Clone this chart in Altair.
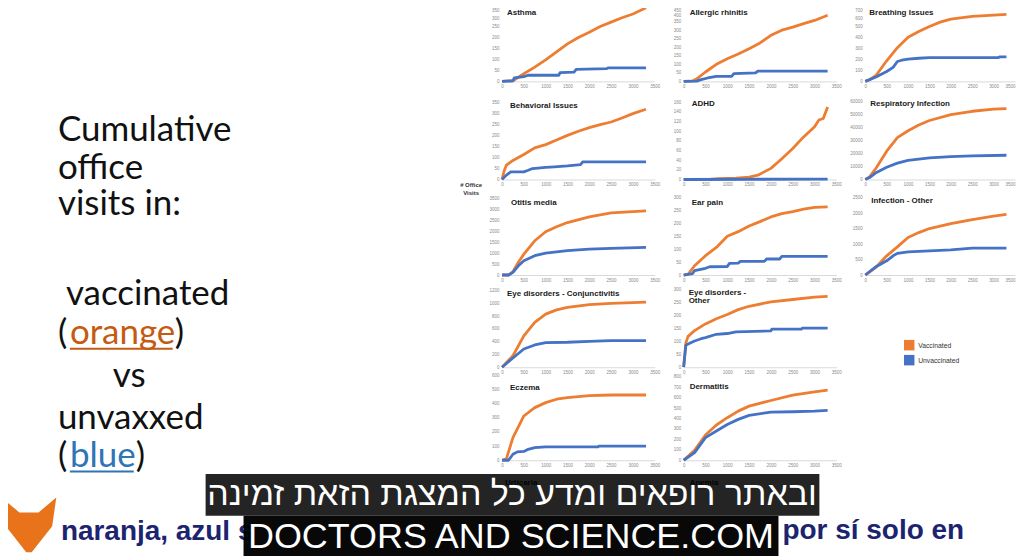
import altair as alt
import pandas as pd

ORANGE = "#ED7D31"
BLUE = "#4472C4"
FONT = "Liberation Sans"
BIG = "Lato"

# ---------------- data: day of life vs cumulative office visits ----------------
asthma_dv = [0, 250, 500, 750, 1000, 1250, 1500, 1750, 2000, 2250, 2500, 2750, 3000, 3300]
asthma_v = [0, 3, 35, 65, 98, 135, 171, 200, 224, 250, 270, 290, 307, 335]
asthma_du = [0, 250, 280, 500, 600, 1300, 1330, 1650, 1700, 2400, 2430, 3300]
asthma_u = [0, 3, 16, 22, 28, 28, 40, 42, 55, 58, 62, 62]

rhin_dv = [0, 200, 300, 500, 750, 1000, 1250, 1500, 1750, 2000, 2250, 2500, 2750, 3000, 3300]
rhin_v = [0, 3, 15, 55, 100, 133, 160, 191, 225, 270, 300, 318, 338, 357, 387]
rhin_du = [0, 300, 400, 550, 750, 1100, 1150, 1650, 1700, 3300]
rhin_u = [0, 2, 10, 20, 30, 30, 45, 50, 60, 60]

breath_dv = [0, 100, 250, 500, 750, 1000, 1250, 1500, 1750, 2000, 2500, 3000, 3300]
breath_v = [0, 15, 54, 188, 307, 402, 455, 500, 540, 568, 592, 604, 610]
breath_du = [0, 250, 500, 650, 750, 850, 1000, 1250, 1500, 3100, 3150, 3300]
breath_u = [0, 40, 90, 128, 181, 193, 202, 211, 217, 217, 223, 223]

behav_dv = [0, 50, 100, 250, 500, 750, 1000, 1250, 1500, 1750, 2000, 2250, 2500, 2750, 3000, 3300]
behav_v = [0, 40, 65, 87, 114, 144, 159, 180, 201, 220, 236, 250, 262, 280, 300, 320]
behav_du = [0, 100, 200, 500, 600, 700, 1000, 1200, 1500, 1800, 1850, 3300]
behav_u = [0, 20, 35, 35, 42, 50, 55, 58, 62, 68, 80, 80]

adhd_dv = [0, 600, 800, 1200, 1500, 1700, 2000, 2250, 2500, 2750, 3000, 3100, 3200, 3300]
adhd_v = [0, 0, 2, 3, 5, 9, 23, 43, 64, 88, 109, 123, 126, 150]
adhd_du = [0, 3300]
adhd_u = [0, 1]

resp_dv = [0, 100, 250, 500, 750, 1000, 1250, 1500, 2000, 2500, 3000, 3300]
resp_v = [0, 2000, 8700, 21800, 32300, 37600, 42000, 45500, 50000, 52600, 54200, 54700]
resp_du = [0, 100, 250, 500, 750, 1000, 1500, 2000, 2500, 3300]
resp_u = [0, 1500, 5300, 9500, 12600, 14700, 16600, 17600, 18200, 18700]

otitis_dv = [0, 150, 250, 375, 500, 750, 1000, 1250, 1500, 2000, 2500, 3000, 3300]
otitis_v = [0, 0, 150, 580, 950, 1560, 1970, 2200, 2390, 2650, 2830, 2890, 2920]
otitis_du = [0, 150, 250, 375, 500, 750, 1000, 1500, 2000, 2500, 3300]
otitis_u = [0, 0, 120, 420, 650, 880, 1000, 1110, 1180, 1210, 1260]

ear_dv = [0, 100, 250, 500, 750, 1000, 1250, 1500, 1750, 2000, 2250, 2500, 2750, 3000, 3300]
ear_v = [0, 3, 36, 75, 107, 150, 168, 190, 207, 225, 238, 246, 255, 262, 264]
ear_du = [0, 200, 250, 500, 600, 1000, 1050, 1250, 1300, 1850, 1900, 2200, 2250, 3300]
ear_u = [0, 5, 17, 26, 32, 33, 45, 46, 53, 53, 62, 62, 72, 72]

infoth_dv = [0, 250, 500, 750, 1000, 1250, 1500, 2000, 2500, 3000, 3300]
infoth_v = [0, 250, 620, 910, 1210, 1370, 1500, 1660, 1790, 1900, 1960]
infoth_du = [0, 250, 500, 650, 750, 1000, 1500, 2000, 2500, 3300]
infoth_u = [0, 270, 460, 620, 700, 750, 780, 815, 870, 870]

conj_dv = [0, 250, 500, 750, 1000, 1250, 1500, 2000, 2500, 3000, 3300]
conj_v = [0, 180, 490, 700, 830, 895, 935, 977, 997, 1008, 1018]
conj_du = [0, 250, 500, 750, 1000, 1500, 2000, 2500, 3300]
conj_u = [0, 145, 285, 348, 384, 390, 405, 415, 415]

eyeoth_dv = [0, 50, 100, 250, 500, 750, 1000, 1250, 1500, 2000, 2500, 3000, 3300]
eyeoth_v = [0, 93, 119, 141, 167, 187, 203, 222, 235, 252, 261, 270, 273]
eyeoth_du = [0, 50, 150, 250, 400, 500, 750, 1000, 1200, 2000, 2020, 2700, 2720, 3300]
eyeoth_u = [0, 85, 93, 101, 110, 114, 127, 130, 136, 140, 147, 147, 151, 151]

eczema_dv = [0, 100, 250, 500, 750, 1000, 1250, 1500, 2000, 2500, 3300]
eczema_v = [0, 10, 160, 312, 371, 406, 430, 441, 455, 460, 460]
eczema_du = [0, 150, 250, 350, 500, 600, 750, 1000, 2200, 2220, 3300]
eczema_u = [0, 0, 42, 59, 62, 77, 89, 94, 94, 99, 99]

derm_dv = [0, 250, 500, 750, 1000, 1250, 1500, 2000, 2500, 3000, 3300]
derm_v = [0, 96, 242, 338, 408, 471, 519, 573, 624, 656, 672]
derm_du = [0, 250, 500, 750, 1000, 1250, 1500, 2000, 2500, 3000, 3300]
derm_u = [0, 73, 217, 280, 343, 392, 430, 462, 465, 471, 478]

x_ticks = [0, 500, 1000, 1500, 2000, 2500, 3000, 3500]

# ---------------- layout (pixels) ----------------
COL_W = [153, 153, 150]
COL_X = [502, 684, 866]
COL_SP = 29
ROW_TOP = [4, 88, 186.3, 281.3, 373.7]
ROW_H = [77, 91.3, 88, 85.4, 85.6]
ROW_SP = 7

ONE = alt.Data(values=[{"a": 1}])
COLOR = alt.Color("group:N",
                  scale=alt.Scale(domain=["Vaccinated", "Unvaccinated"], range=[ORANGE, BLUE]),
                  legend=None)

# title, vacc days, vacc, unvacc days, unvacc, tick max, tick step, axis length, row, col, title x, title y
panels = [
    ("Asthma", asthma_dv, asthma_v, asthma_du, asthma_u, 350, 50, 77, 0, 0, 507, 12.5),
    ("Allergic  rhinitis", rhin_dv, rhin_v, rhin_du, rhin_u, 450, 50, 77, 0, 1, 690, 12.5),
    ("Breathing Issues", breath_dv, breath_v, breath_du, breath_u, 700, 100, 77, 0, 2, 870, 12.5),
    ("Behavioral Issues", behav_dv, behav_v, behav_du, behav_u, 350, 50, 77, 1, 0, 510, 105.7),
    ("ADHD", adhd_dv, adhd_v, adhd_du, adhd_u, 160, 20, 77.6, 1, 1, 692, 104),
    ("Respiratory Infection", resp_dv, resp_v, resp_du, resp_u, 60000, 10000, 78, 1, 2, 871, 104),
    ("Otitis media", otitis_dv, otitis_v, otitis_du, otitis_u, 3500, 500, 77, 2, 0, 511, 201.7),
    ("Ear pain", ear_dv, ear_v, ear_du, ear_u, 300, 50, 77.6, 2, 1, 692, 201.7),
    ("Infection  - Other", infoth_dv, infoth_v, infoth_du, infoth_u, 2500, 500, 77.6, 2, 2, 872, 200.3),
    ("Eye disorders - Conjunctivitis", conj_dv, conj_v, conj_du, conj_u, 1200, 200, 77, 3, 0, 507, 293.3),
    ("Eye disorders -\nOther", eyeoth_dv, eyeoth_v, eyeoth_du, eyeoth_u, 300, 50, 78, 3, 1, 689, 292),
    ("Eczema", eczema_dv, eczema_v, eczema_du, eczema_u, 600, 100, 85.3, 4, 0, 510, 386.7),
    ("Dermatitis", derm_dv, derm_v, derm_du, derm_u, 800, 100, 83.6, 4, 1, 690, 386),
]


def panel(p):
    title, dv, v, du, u, tmax, tstep, alen, row, col, tx, ty = p
    H = ROW_H[row]
    W = COL_W[col]
    dmax = tmax * H / alen
    # the top row's highest tick labels sit at the very top of the frame; nudge them into view
    if row == 0:
        loff = {"condition": [{"test": "datum.value == %d" % tmax, "value": 6},
                              {"test": "datum.value == %d" % (tmax - tstep), "value": 2.5}],
                "value": 0}
    else:
        loff = 0
    if col == 2:
        lalign = {"condition": {"test": "datum.value == 3500", "value": "right"}, "value": "center"}
    else:
        lalign = "center"
    xenc = alt.X("day:Q", scale=alt.Scale(domain=[0, 3500], nice=False, zero=False),
                 axis=alt.Axis(values=x_ticks, title=None, grid=False, ticks=False,
                               domain=True, domainColor="#d9d9d9", domainWidth=1,
                               labelFontSize=4.5, labelColor="#8a8a8a", labelPadding=2,
                               labelFlush=False, labelOverlap=False, format="d",
                               labelAlign=lalign))
    yenc = alt.Y("visits:Q", scale=alt.Scale(domain=[0, dmax], nice=False, zero=False),
                 axis=alt.Axis(values=list(range(0, tmax + 1, tstep)), title=None, grid=False,
                               ticks=False, domain=False, labelFontSize=4.5, labelColor="#8a8a8a",
                               labelPadding=3, labelOverlap=False, format="d", labelOffset=loff))
    vac = pd.DataFrame({"day": dv, "visits": v, "group": "Vaccinated"})
    unv = pd.DataFrame({"day": du, "visits": u, "group": "Unvaccinated"})
    lv = alt.Chart(vac).mark_line(strokeWidth=2.8, strokeJoin="round").encode(x=xenc, y=yenc, color=COLOR)
    lu = alt.Chart(unv).mark_line(strokeWidth=2.8, strokeJoin="round").encode(x=xenc, y=yenc, color=COLOR)
    t = alt.Chart(ONE).mark_text(text=title, align="left", baseline="middle", fontSize=8,
                                 fontWeight="bold", font=FONT, color="#1a1a1a",
                                 lineBreak="\n", lineHeight=8).encode(
        x=alt.value(tx - COL_X[col]), y=alt.value(ty - ROW_TOP[row]))
    return alt.layer(lv, lu, t).properties(width=W, height=H)


# ---------------- overlays (drawn in the last cell) ----------------
OX, OY = COL_X[2], ROW_TOP[4]


def pos(df):
    df = df.copy()
    for c in ("x", "x2"):
        if c in df:
            df[c] = df[c] - OX
    for c in ("y", "y2"):
        if c in df:
            df[c] = df[c] - OY
    return df


def xq(f="x"):
    return alt.X(f + ":Q", scale=None, axis=None)


def yq(f="y"):
    return alt.Y(f + ":Q", scale=None, axis=None)


def texts(rows, **mk):
    df = pos(pd.DataFrame(rows, columns=["x", "y", "text"]))
    return alt.Chart(df).mark_text(**mk).encode(x=xq(), y=yq(), text="text:N")


def rects(rows, **mk):
    df = pos(pd.DataFrame(rows, columns=["x", "x2", "y", "y2"]))
    return alt.Chart(df).mark_rect(**mk).encode(x=xq(), x2=alt.X2("x2:Q"), y=yq(), y2=alt.Y2("y2:Q"))


big_lines = [
    (57, 139, "Cumulative"),
    (57, 177, "office"),
    (57, 214, "visits in:"),
    (65, 304, "vaccinated"),
    (57, 343, "("),
    (174, 343, ")"),
    (112, 386, "vs"),
    (57, 428, "unvaxxed"),
    (57, 466, "("),
    (135, 466, ")"),
]
big_kw = dict(align="left", baseline="alphabetic", fontSize=35, font=BIG)

legend_sq = pd.DataFrame({"x": [910, 910], "y": [344, 359], "group": ["Vaccinated", "Unvaccinated"]})

FOX = ("M -1 -1 L -0.35 -0.45 L 0.35 -0.45 L 1 -1 L 0.85 0.05 L 0.1 1 L -0.1 1 "
       "L -0.85 0.05 Z")

overlays = [
    alt.Chart(ONE).mark_point(opacity=0).encode(x=alt.value(0), y=alt.value(0)),
    # big left text
    texts(big_lines, color="#111111", **big_kw),
    texts([(69, 343, "orange")], color="#C55A11", **big_kw),
    texts([(69, 466, "blue")], color="#2E75B6", **big_kw),
    rects([(69, 172, 346.5, 348.5)], color="#C55A11"),
    rects([(69, 133, 469.5, 471.5)], color="#2E75B6"),
    # y-axis caption
    texts([(471, 184, "# Office"), (471, 192, "Visits")], align="center", baseline="middle",
          fontSize=6, fontWeight="bold", font=FONT, color="#333333"),
    # legend
    alt.Chart(pos(legend_sq)).mark_square(size=110, opacity=1, strokeWidth=0).encode(
        x=xq(), y=yq(), color=COLOR),
    texts([(919, 345, "Vaccinated"), (919, 360, "Unvaccinated")], align="left", baseline="middle",
          fontSize=6.8, font=FONT, color="#333333"),
    # bottom-row titles, seen through the subtitle box
    texts([(505, 482, "Urticaria"), (690, 482, "Anemia")], align="left", baseline="middle",
          fontSize=8, fontWeight="bold", font=FONT, color="#1a1a1a"),
    # channel logo
    alt.Chart(pos(pd.DataFrame({"x": [28], "y": [524]}))).mark_point(
        shape=FOX, size=3000, filled=True, color="#E8731A", opacity=1, strokeWidth=0).encode(
        x=xq(), y=yq()),
    # spanish burned-in subtitle
    texts([(60, 539, "naranja, azul s")], align="left", baseline="alphabetic", fontSize=28,
          fontWeight="bold", font=FONT, color="white", stroke="white", strokeWidth=5,
          strokeJoin="round"),
    texts([(965, 538, "por sí solo en")], align="right", baseline="alphabetic", fontSize=28,
          fontWeight="bold", font=FONT, color="white", stroke="white", strokeWidth=5,
          strokeJoin="round"),
    texts([(60, 539, "naranja, azul s")], align="left", baseline="alphabetic", fontSize=28,
          fontWeight="bold", font=FONT, color="#1c2470"),
    texts([(965, 538, "por sí solo en")], align="right", baseline="alphabetic", fontSize=28,
          fontWeight="bold", font=FONT, color="#1c2470"),
    # subtitle boxes
    rects([(205, 820, 473, 515)], color="#000000", opacity=0.86),
    rects([(243, 779, 515, 560)], color="#000000", opacity=0.97),
    texts([(512, 494, "ובאתר רופאים ומדע כל המצגת הזאת זמינה")], align="center", baseline="middle",
          fontSize=34, font=FONT, color="white"),
    texts([(511, 547, "DOCTORS AND SCIENCE.COM")], align="center", baseline="alphabetic",
          fontSize=36, font=FONT, color="white"),
    # canvas anchors (invisible) fixing the page frame
    alt.Chart(pos(pd.DataFrame({"x": [0, 1024], "y": [0, 556]}))).mark_point(
        filled=True, size=1, opacity=0, strokeWidth=0).encode(x=xq(), y=yq()),
]

cells = {}
for p in panels:
    cells[(p[8], p[9])] = panel(p)
cells[(3, 2)] = alt.Chart(ONE).mark_point(opacity=0).encode(
    x=alt.value(0), y=alt.value(0)).properties(width=COL_W[2], height=ROW_H[3])
cells[(4, 2)] = alt.layer(*overlays).properties(width=COL_W[2], height=ROW_H[4])

ordered = [cells[(r, c)] for r in range(5) for c in range(3)]

chart = alt.concat(*ordered, columns=3, spacing={"row": ROW_SP, "column": COL_SP},
                   bounds="flush", align="each").properties(
    padding={"left": -8, "top": -8, "right": -8, "bottom": 0},
    background="white",
).configure_view(stroke="transparent").configure_axis(labelFont=FONT)

chart.save("out.html", embed_options={"renderer": "svg", "actions": False})
